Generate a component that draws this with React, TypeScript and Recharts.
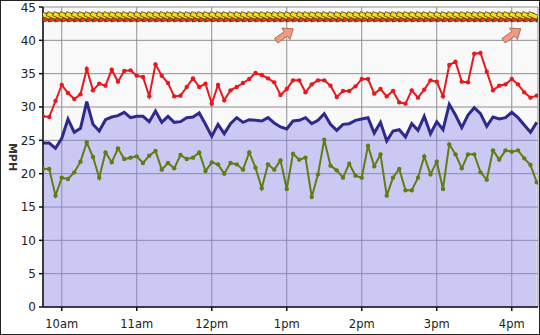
import { ComposedChart, Area, Line, Scatter, XAxis, YAxis, CartesianGrid, Label } from "recharts"

// readings every 5 minutes starting 9:45am (minutes after midnight)
const START = 585
const STEP = 5

const gust = [
  28.6, 28.5, 30.9, 33.3, 32.1, 31.2, 31.9, 35.7, 32.5, 33.5,
  33.2, 35.6, 33.8, 35.4, 35.5, 34.7, 34.5, 31.6, 36.4, 34.7,
  33.6, 31.6, 31.7, 33.0, 34.3, 33.0, 33.5, 30.5, 33.3, 31.0,
  32.5, 33.0, 33.6, 34.2, 35.1, 34.8, 34.3, 33.7, 31.8, 32.7,
  34.0, 34.0, 32.2, 33.4, 34.0, 34.0, 33.2, 31.5, 32.4, 32.4,
  33.1, 34.2, 34.2, 32.0, 32.7, 31.6, 32.4, 30.7, 30.5, 32.5,
  31.4, 32.6, 34.0, 33.8, 31.6, 36.3, 36.8, 33.8, 33.7, 38.0,
  38.1, 35.3, 32.5, 33.2, 33.4, 34.2, 33.4, 32.2, 31.4, 31.7,
]

const avg = [
  24.6, 24.6, 23.8, 25.3, 28.2, 26.2, 26.8, 30.8, 27.4, 26.4,
  28.1, 28.5, 28.7, 29.2, 28.4, 28.6, 28.6, 27.8, 29.4, 27.7,
  28.6, 27.7, 27.8, 28.4, 28.5, 29.1, 27.4, 25.6, 27.4, 26.0,
  27.5, 28.4, 27.7, 28.1, 28.0, 27.9, 28.4, 27.6, 27.0, 26.7,
  27.9, 28.0, 28.4, 27.5, 28.0, 29.0, 27.4, 26.5, 27.4, 27.5,
  28.0, 28.2, 28.4, 26.1, 27.7, 24.9, 26.4, 26.6, 25.5, 27.5,
  26.5, 28.6, 26.0, 27.8, 26.6, 30.4, 28.8, 26.9, 28.8, 29.9,
  29.0, 27.1, 28.5, 28.2, 28.4, 29.2, 28.4, 27.3, 26.2, 27.7,
]

const lull = [
  20.7, 20.7, 16.7, 19.4, 19.2, 20.2, 21.8, 24.7, 22.5, 19.4,
  23.2, 21.7, 23.8, 22.2, 22.4, 22.6, 21.6, 22.7, 23.4, 20.6,
  21.6, 20.8, 22.8, 22.2, 22.4, 23.2, 20.4, 21.7, 21.4, 20.0,
  21.6, 21.4, 20.6, 23.2, 20.9, 17.8, 21.4, 20.6, 22.0, 17.7,
  23.0, 22.1, 22.4, 16.5, 19.9, 25.1, 21.2, 20.5, 19.4, 21.5,
  19.7, 19.4, 24.2, 21.1, 22.9, 16.7, 19.4, 20.7, 17.5, 17.5,
  19.4, 22.6, 19.9, 21.8, 17.7, 24.4, 22.9, 20.8, 22.9, 22.9,
  20.2, 19.1, 23.5, 22.1, 23.5, 23.3, 23.5, 22.3, 21.3, 18.7,
]

const hourTicks = [600, 660, 720, 780, 840, 900, 960]
const hourLabels = ["10am", "11am", "12pm", "1pm", "2pm", "3pm", "4pm"]
const speedTicks = [0, 5, 10, 15, 20, 25, 30, 35, 40, 45]

// direction arrow strip along the top, plus the two big forecast arrows
const BAND = 43.5
const forecastTimes = [778, 960]
const forecastSpeed = 40.8

const rows = gust.map((g, i) => ({ t: START + i * STEP, gust: g, avg: avg[i], lull: lull[i] }))
const band = rows.map(r => ({ t: r.t, y: BAND }))
const forecast = forecastTimes.map(t => ({ t, y: forecastSpeed }))

const FONT = "'DejaVu Sans', Verdana, sans-serif"

function DirArrow(props: any) {
  const { cx, cy } = props
  if (cx == null || cy == null) return null
  return (
    <g transform={`translate(${cx},${cy}) rotate(22)`}>
      <path d="M-9,-2.2 L2,-2.2 L2,2.2 L-9,2.2 Z" fill="#f4de1c" stroke="#2e1c06" strokeWidth={0.6} />
      <path d="M1,-5 L8.5,0 L1,5 Z" fill="#e4401a" stroke="#4a1606" strokeWidth={0.6} />
    </g>
  )
}

function ForecastArrow(props: any) {
  const { cx, cy } = props
  if (cx == null || cy == null) return null
  return (
    <g transform={`translate(${cx},${cy}) rotate(-35)`}>
      <path
        d="M-10,-2.8 L2,-2.8 L2,-7 L11,0 L2,7 L2,2.8 L-10,2.8 Z"
        fill="#ee9b82"
        stroke="#a86450"
        strokeWidth={0.8}
      />
    </g>
  )
}

function MphLabel() {
  return (
    <text
      x={12}
      y={157}
      transform="rotate(90 12 157)"
      textAnchor="middle"
      dominantBaseline="central"
      fontSize={11}
      fontWeight="bold"
      fill="#333"
      fontFamily={FONT}
    >
      MPH
    </text>
  )
}

export default function App() {
  return (
    <div style={{ position: "absolute", left: 0, top: 0, width: 540, height: 335, background: "#fff" }}>
      <ComposedChart width={540} height={335} data={rows} margin={{ top: 7, right: 2, bottom: 0, left: 0 }}>
        <CartesianGrid stroke="#8f8f8f" fill="#f9f9f9" />
        <XAxis
          dataKey="t"
          type="number"
          domain={[585, 981]}
          ticks={hourTicks}
          tickFormatter={(v: number) => hourLabels[hourTicks.indexOf(v)]}
          allowDataOverflow
          height={28}
          stroke="#111"
          strokeWidth={1.5}
          tickSize={4}
          tickMargin={9}
          tick={{ fontSize: 11.5, fill: "#222", fontFamily: FONT }}
        />
        <YAxis
          domain={[0, 45]}
          ticks={speedTicks}
          width={43}
          stroke="#111"
          strokeWidth={1.5}
          tickSize={4}
          tickMargin={3}
          tick={{ fontSize: 12, fill: "#222", fontFamily: FONT }}
        >
          <Label content={<MphLabel />} />
        </YAxis>
        <Area
          dataKey="avg"
          type="linear"
          stroke="#2e2a8c"
          strokeWidth={3}
          fill="#8a80ee"
          fillOpacity={0.4}
          dot={false}
          isAnimationActive={false}
        />
        <Line
          dataKey="lull"
          type="linear"
          stroke="#5e7e12"
          strokeWidth={2}
          dot={{ r: 2.2, fill: "#5e7e12", stroke: "none" }}
          isAnimationActive={false}
        />
        <Line
          dataKey="gust"
          type="linear"
          stroke="#e8181e"
          strokeWidth={2}
          dot={{ r: 2.2, fill: "#e8181e", stroke: "none" }}
          isAnimationActive={false}
        />
        <Scatter data={band} dataKey="y" shape={<DirArrow />} isAnimationActive={false} />
        <Scatter data={forecast} dataKey="y" shape={<ForecastArrow />} isAnimationActive={false} />
      </ComposedChart>
      <div
        style={{
          position: "absolute",
          left: 0,
          top: 0,
          width: 540,
          height: 335,
          boxSizing: "border-box",
          border: "1px solid #222",
          pointerEvents: "none",
        }}
      />
    </div>
  )
}
